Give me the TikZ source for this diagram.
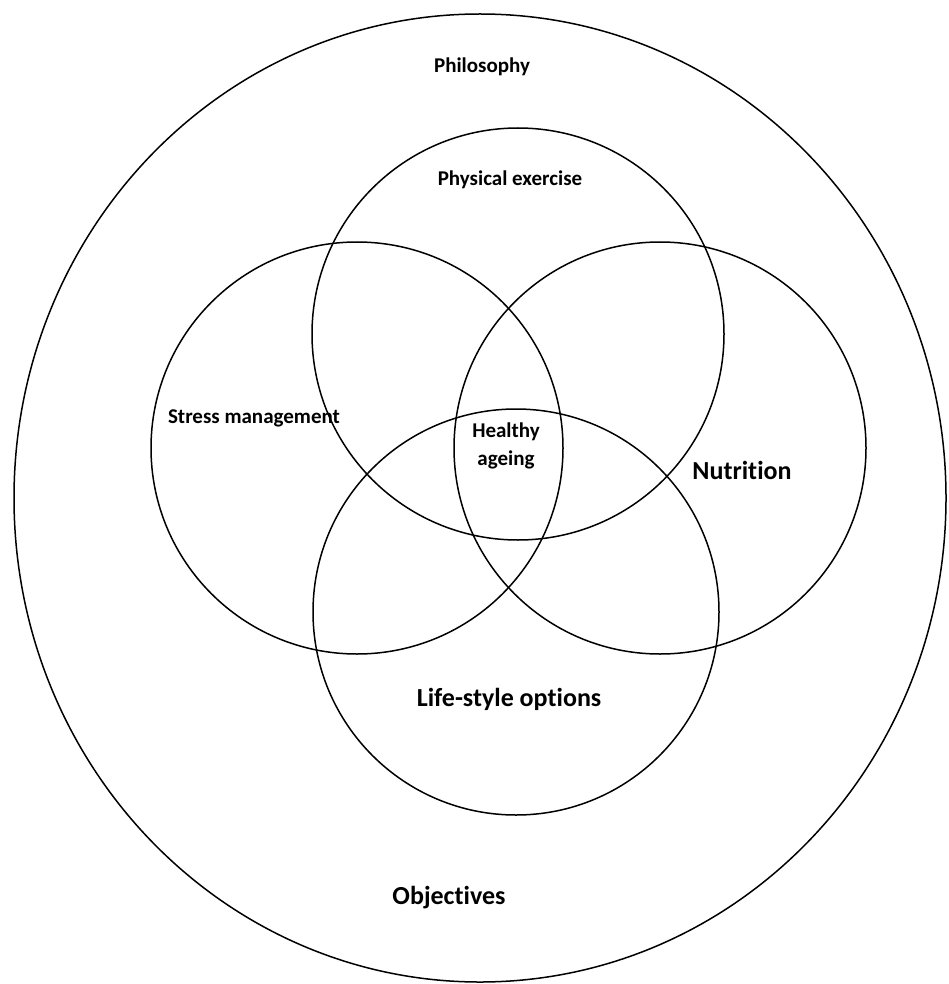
\documentclass[tikz,border=0pt]{standalone}
\usepackage{fontspec}
\setmainfont{Carlito}[Ligatures={NoCommon}]
\begin{document}
\begin{tikzpicture}[x=1pt,y=-1pt,
  ring/.style={draw=black,line width=1.5pt},
  small/.style={font=\bfseries\fontsize{21}{28}\selectfont,inner sep=0pt,align=center},
  big/.style={font=\bfseries\fontsize{26}{31}\selectfont,inner sep=0pt,align=center}]
\useasboundingbox (0,0) rectangle (948,984);
\fill[white] (0,0) rectangle (948,984);
% outer ellipse
\draw[ring] (480,498) ellipse [x radius=466, y radius=484];
% four circles
\draw[ring] (518,334) circle [radius=206];
\draw[ring] (357,448) circle [radius=206];
\draw[ring] (660,448) circle [radius=206];
\draw[ring] (516,612) circle [radius=203];
% labels
\node[small] (phil) at (482,67) {Philosophy};
\node[small] (pe) at (510,180) {Physical exercise};
\node[small] (sm) at (254,418) {Stress management};
\node[small] (ha) at (506,446) {Healthy\\ageing};
\node[big] (nu) at (742,470) {Nutrition};
\node[big] (ls) at (509,699) {Life-style options};
\node[big] (ob) at (449,898) {Objectives};
\end{tikzpicture}
\end{document}
